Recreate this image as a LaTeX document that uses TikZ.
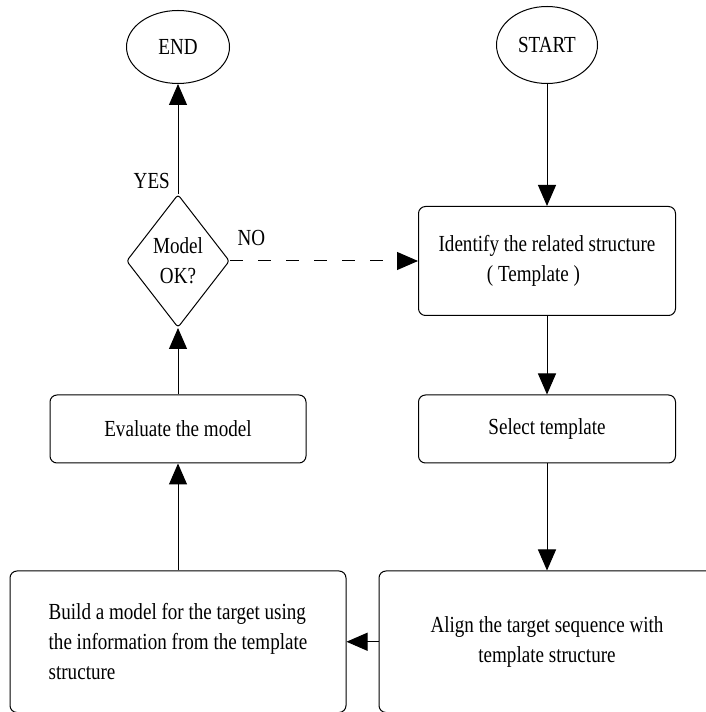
\documentclass[tikz,border=0pt]{standalone}
\usepackage{fontspec}
\setmainfont{Liberation Serif}[FakeStretch=0.83]
\usetikzlibrary{shapes.geometric,arrows.meta,positioning}

\begin{document}
\begin{tikzpicture}[
    x=1pt, y=1pt,
    font=\fontsize{23}{30}\selectfont,
    terminal/.style={ellipse, draw, line width=1pt, inner sep=0pt},
    process/.style={rectangle, draw, line width=1pt, rounded corners=7pt, inner sep=0pt, minimum width=257pt},
    decision/.style={diamond, draw, line width=1pt, rounded corners=3pt, inner sep=0pt, aspect=0.77,
        minimum width=103pt, minimum height=133pt, align=center},
    arrowline/.style={line width=1pt, -{Triangle[length=21pt,width=18pt]}},
    label/.style={inner sep=0pt}
    ]

\clip (0,0) rectangle (706,712);

% terminals
\node[terminal, minimum width=103pt, minimum height=73pt] (stop) at (178,665) {END};
\node[terminal, minimum width=101pt, minimum height=77pt] (start) at (547,667) {START};

\node[process, minimum height=109pt, align=left] (identify) at (547,451)
    {Identify the related structure\\\hspace*{2.1em}( Template )};
\node[decision] (check) at (178,451) {Model\\OK?};

\node[process, minimum height=68pt] (select) at (547,283) {Select template};
\node[process, minimum width=256pt, minimum height=68pt] (evaluate) at (178,283) {Evaluate the model};

\node[process, minimum width=336pt, minimum height=141.5pt, align=left] (build) at (178,70.25)
    {Build a model for the target using\\the information from the template\\structure};
\node[process, minimum width=336pt, minimum height=141.5pt, align=center] (alignbox) at (547,70.25)
    {Align the target sequence with\\template structure};

% connectors
\draw[arrowline] (start.south) -- (identify.north);
\draw[arrowline] (identify.south) -- (select.north);
\draw[arrowline] (select.south) -- (alignbox.north);
\draw[arrowline] (alignbox.west) -- (build.east);
\draw[arrowline] (build.north) -- (evaluate.south);
\draw[arrowline] (evaluate.north) -- (check.south);
\draw[arrowline] (check.north) -- (stop.south);
\draw[arrowline, dash pattern=on 13pt off 15pt] (check.east) -- (identify.west);

\node[label, above left=5pt and 8pt of check.north] (yes) {YES};
\node[label, above right=15.5pt and 7.5pt of check.east] (no) {NO};

\end{tikzpicture}
\end{document}
